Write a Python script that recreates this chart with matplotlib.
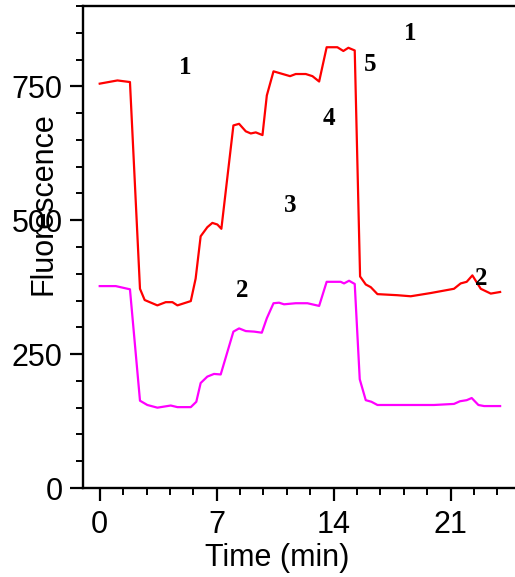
import matplotlib
matplotlib.use('Agg')
import matplotlib.pyplot as plt
from matplotlib.ticker import MultipleLocator

# Trace 1 (red) - time (min) / fluorescence
red_t = [0.0, 1.06, 1.81, 2.41, 2.69, 3.45, 3.95, 4.35, 4.65, 5.45, 5.74, 6.04, 6.44,
         6.74, 7.04, 7.28, 8.0, 8.34, 8.74, 9.04, 9.34, 9.74, 10.0, 10.4, 11.39, 11.73,
         12.33, 12.73, 13.13, 13.58, 14.22, 14.58, 14.88, 15.26, 15.58, 15.92, 16.22,
         16.62, 17.81, 18.61, 19.8, 21.2, 21.6, 21.96, 22.3, 22.8, 23.4, 23.96]
red_f = [755, 761, 758, 372, 351, 341, 347, 347, 341, 349, 391, 470, 487,
         495, 492, 484, 677, 680, 666, 662, 664, 659, 733, 778, 769, 773,
         773, 769, 759, 823, 823, 816, 822, 817, 395, 380, 375,
         362, 360, 358, 364, 372, 382, 385, 397, 372, 363, 366]

# Trace 2 (magenta)
mag_t = [0.0, 0.96, 1.81, 2.41, 2.85, 3.45, 4.25, 4.65, 5.45, 5.78, 6.04, 6.44, 6.84,
         7.24, 8.0, 8.34, 8.74, 9.24, 9.7, 10.0, 10.4, 10.73, 11.03, 11.73, 12.43,
         13.13, 13.58, 14.42, 14.62, 14.92, 15.26, 15.56, 15.92, 16.26, 16.62, 18.61,
         20.0, 21.2, 21.56, 21.96, 22.26, 22.66, 23.0, 23.96]
mag_f = [377, 377, 371, 163, 155, 150, 154, 151, 151, 161, 196, 208, 213,
         212, 292, 298, 293, 292, 290, 317, 345, 346, 343, 345, 345,
         340, 385, 385, 382, 387, 381, 203, 164, 161, 155, 155,
         155, 157, 162, 164, 168, 155, 153, 153]

# step labels
note_text = ['1', '1', '5', '4', '3', '2', '2']
note_t = [5.09, 18.6, 16.2, 13.7, 11.4, 8.5, 22.86]
note_f = [785, 849, 791, 690, 528, 369, 392]

W, H = 515, 577
fig = plt.figure(figsize=(W / 100, H / 100), dpi=100)
ax = fig.add_axes([83 / W, 89 / H, (517.5 - 83) / W, (571 - 89) / H])

ax.plot(red_t, red_f, color='#ff0000', lw=1.6)
ax.plot(mag_t, mag_f, color='#ff00ff', lw=1.6)

for s, t, f in zip(note_text, note_t, note_f):
    ax.text(t, f, s, ha='center', va='center', fontsize=18, fontweight='bold',
            family='Liberation Serif')

ax.set_xlim(-1, 25)
ax.set_ylim(0, 900)
ax.set_xticks([0, 7, 14, 21])
ax.set_yticks([0, 250, 500, 750])
ax.xaxis.set_minor_locator(MultipleLocator(1.4))
ax.yaxis.set_minor_locator(MultipleLocator(50))

for side in ['left', 'bottom', 'top']:
    ax.spines[side].set_linewidth(1.7)
ax.spines['right'].set_visible(False)

ax.tick_params(which='major', length=9.5, width=1.6, labelsize=22, pad=5,
               top=False, right=False)
ax.tick_params(which='minor', length=5, width=1.4, top=False, right=False)
ax.tick_params(axis='x', which='major', pad=6)
for lab in ax.get_xticklabels() + ax.get_yticklabels():
    lab.set_family('Liberation Sans')

ax.set_xlabel('Time (min)', fontsize=22, family='Liberation Sans')
ax.set_ylabel('Fluorescence', fontsize=22, family='Liberation Sans')
ax.xaxis.set_label_coords(0.447, -0.145)
ax.yaxis.set_label_coords(-0.092, 0.591)
ax.xaxis.label.set_va('center')
ax.yaxis.label.set_va('center')

fig.savefig('out.png', dpi=100)
